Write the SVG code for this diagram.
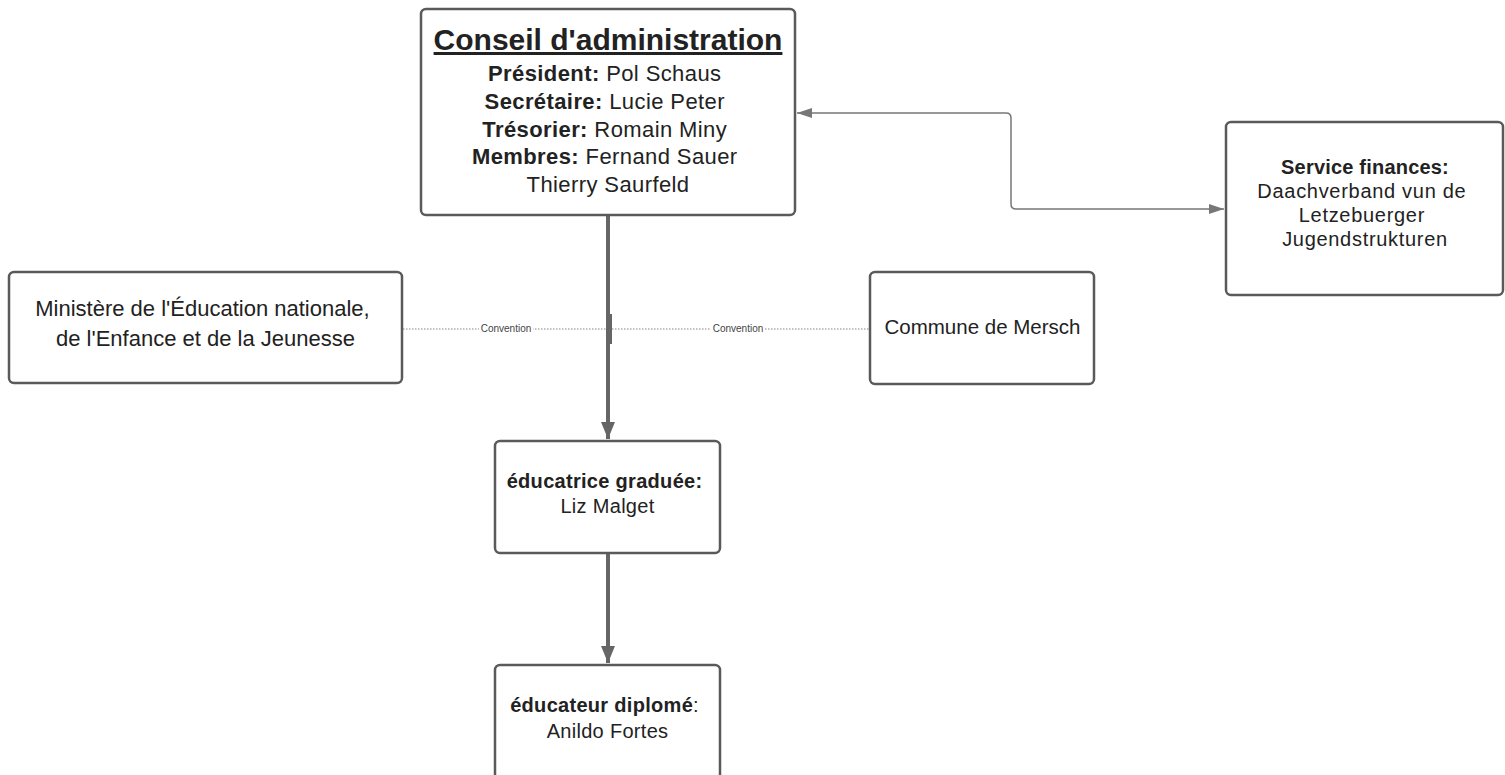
<svg xmlns="http://www.w3.org/2000/svg" width="1505" height="775" viewBox="0 0 1505 775">
<style>
.box{fill:#fff;stroke:#5a5a5a;stroke-width:2.5}
.t{font-family:"Liberation Sans",Arial,sans-serif;fill:#222;text-anchor:middle}
.b{font-weight:bold}
.thick{stroke:#666;stroke-width:4;fill:none}
.thin{stroke:#777;stroke-width:1.5;fill:none}
.dot{stroke:#888;stroke-width:1.2;stroke-dasharray:1.5 1.5;fill:none}
.lbl{font-family:"Liberation Sans",Arial,sans-serif;font-size:10px;fill:#444;text-anchor:middle}
</style>
<defs>
<marker id="ah" markerUnits="userSpaceOnUse" markerWidth="17" markerHeight="14" refX="17" refY="7" orient="auto"><path d="M0,0 L17,7 L0,14 z" fill="#666"/></marker>
<marker id="as" markerUnits="userSpaceOnUse" markerWidth="15" markerHeight="10" refX="15" refY="5" orient="auto-start-reverse"><path d="M0,0 L15,5 L0,10 z" fill="#777"/></marker>
</defs>
<rect width="1505" height="775" fill="#fff"/>
<g id="connectors">
<line class="thick" x1="608" y1="216" x2="608" y2="439" marker-end="url(#ah)"/>
<line class="thick" x1="608" y1="554" x2="608" y2="663" marker-end="url(#ah)"/>
<line x1="609.5" y1="314" x2="609.5" y2="344" stroke="#666" stroke-width="5"/>
<path class="thin" d="M1224 209 H1016 Q1011 209 1011 204 V118 Q1011 113 1006 113 H797" marker-start="url(#as)" marker-end="url(#as)"/>
<line class="dot" x1="403" y1="329" x2="606" y2="329"/>
<line class="dot" x1="612" y1="329" x2="869" y2="329"/>
<rect x="479" y="323" width="54" height="11" fill="#fff"/>
<text class="lbl" x="506" y="332">Convention</text>
<rect x="711" y="323" width="54" height="11" fill="#fff"/>
<text class="lbl" x="738" y="332">Convention</text>
</g>
<g id="conseil">
<rect class="box" x="421" y="9" width="374" height="206" rx="5"/>
<text class="t b" x="608" y="50" font-size="30" text-decoration="underline">Conseil d'administration</text>
<text class="t" font-size="22" letter-spacing="0.4">
<tspan x="608" y="81"><tspan class="b">Président:</tspan> Pol Schaus</tspan>
<tspan x="608" y="109"><tspan class="b">Secrétaire:</tspan> Lucie Peter</tspan>
<tspan x="608" y="137"><tspan class="b">Trésorier:</tspan> Romain Miny</tspan>
<tspan x="608" y="164"><tspan class="b">Membres:</tspan> Fernand Sauer</tspan>
<tspan x="608" y="192">Thierry Saurfeld</tspan>
</text>
</g>
<g id="service">
<rect class="box" x="1226" y="122" width="277" height="173" rx="5"/>
<text class="t b" x="1365" y="174" font-size="20" fill="#333" letter-spacing="0.2">Service finances:</text>
<text class="t" font-size="20" fill="#333" letter-spacing="0.7">
<tspan x="1365" y="198">Daachverband vun de</tspan>
<tspan x="1365" y="222">Letzebuerger</tspan>
<tspan x="1365" y="246">Jugendstrukturen</tspan>
</text>
</g>
<g id="ministere">
<rect class="box" x="9" y="272" width="393" height="111" rx="5"/>
<text class="t" font-size="22">
<tspan x="205.5" y="316">Ministère de l'Éducation nationale,</tspan>
<tspan x="205.5" y="346">de l'Enfance et de la Jeunesse</tspan>
</text>
</g>
<g id="commune">
<rect class="box" x="870" y="272" width="224" height="112" rx="5"/>
<text class="t" x="982.5" y="334" font-size="20.5" fill="#333">Commune de Mersch</text>
</g>
<g id="educatrice">
<rect class="box" x="495" y="441" width="225" height="112" rx="5"/>
<text class="t" font-size="20" fill="#333" letter-spacing="0.3">
<tspan class="b" x="607.5" y="488">éducatrice graduée:</tspan>
<tspan x="607.5" y="513">Liz Malget</tspan>
</text>
</g>
<g id="educateur">
<rect class="box" x="495" y="665" width="225" height="130" rx="5"/>
<text class="t" font-size="20" fill="#333" letter-spacing="0.3">
<tspan x="607.5" y="712"><tspan class="b">éducateur diplomé</tspan>:</tspan>
<tspan x="607.5" y="738">Anildo Fortes</tspan>
</text>
</g>
</svg>
